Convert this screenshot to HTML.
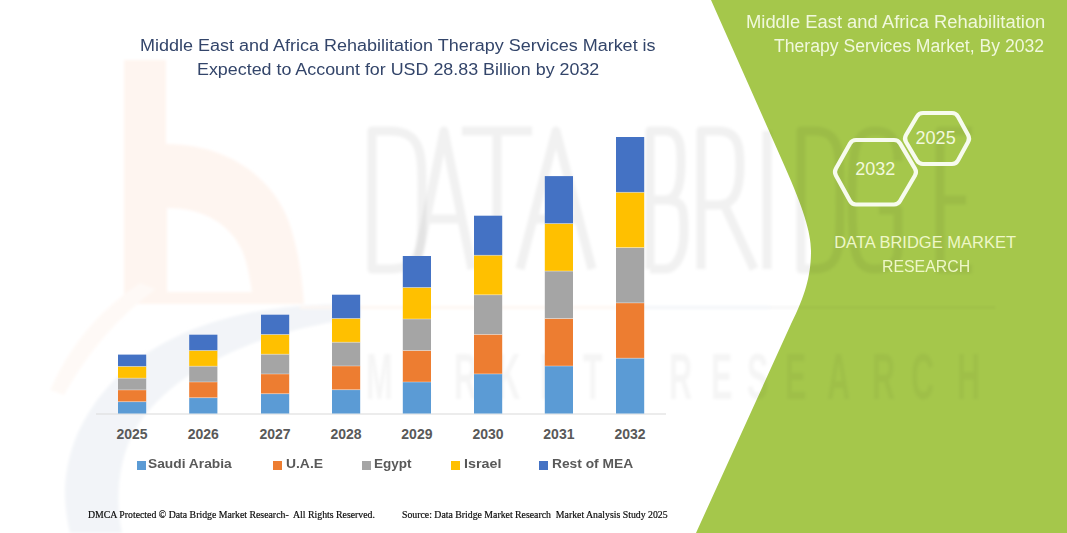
<!DOCTYPE html>
<html><head><meta charset="utf-8">
<style>
html,body{margin:0;padding:0;}
body{width:1067px;height:533px;overflow:hidden;background:#fff;position:relative;font-family:"Liberation Sans",sans-serif;}
.t{position:absolute;white-space:nowrap;line-height:1;transform-origin:0 0;}
.yr{text-align:center;font-weight:bold;font-size:14px;color:#595959;}
.lg{font-weight:bold;font-size:13px;color:#595959;}
svg{position:absolute;left:0;top:0;}
</style></head><body>
<svg width="1067" height="533" viewBox="0 0 1067 533">
  <defs><filter id="bl" x="-10%" y="-10%" width="120%" height="120%"><feGaussianBlur stdDeviation="1.6"/></filter></defs>
  <g id="logo" filter="url(#bl)">
    <path fill-rule="evenodd" d="M124 60 H166 V144 C230 144 275 180 290 225 C298 250 302 275 304 304 H124 Z M167 208 C205 208 230 225 242 250 C248 265 250 280 252 292 H167 Z" fill="#fef5f0"/>
    <path d="M50 390 Q80 322 140 283 L156 289 Q100 330 64 395 Z" fill="#fef9f6"/>
    <path d="M360 305 C250 300 120 330 75 440 C60 480 65 510 70 533 L122 533 C115 500 118 460 135 430 C170 370 260 330 360 318 Z" fill="#f2f4f8"/>
    <rect x="300" y="306" width="340" height="3" fill="#fdf6f2"/>
    <rect x="640" y="306" width="130" height="3" fill="#f3f5f8"/>
  </g>
  <path d="M711 0 L785 167 C803 208 811 232 811 251 C811 274 806 294 791 324 L696 533 L1067 533 L1067 0 Z" fill="#a5c74b"/>
  <rect x="770" y="306" width="225" height="3" fill="#000" fill-opacity="0.035" filter="url(#bl)"/>
  <g fill="none" stroke="#000" stroke-opacity="0.055" stroke-width="9" stroke-linejoin="round" filter="url(#bl)"><path d="M372 131 H389.5 C424 131 422 156 422 200.0 C422 244 424 269 389.5 269 H372 Z"/><path d="M416 269 L444.0 131 L472 269 M425.8 219 H462.2"/><path d="M462 131 H532 M497.0 131 V269"/><path d="M520 269 L556.0 131 L592 269 M532.6 219 H579.4"/><path d="M650 269 V131 H665.3 C682 131 681 151 681 164 C681 195.0 672 200.0 665.3 200.0 H650 M665.3 200.0 C685 200.0 684 210.0 684 233.0 C684 254 676 269 665.3 269 H650"/><path d="M701 269 V131 H718.55 C740 131 740 151 740 166 C740 195.0 732 205.0 718.55 205.0 H701 M724.4 205.0 L754 269"/><path d="M767.0 131 V269"/><path d="M801 131 H814.65 C842 131 840 156 840 200.0 C840 244 842 269 814.65 269 H801 Z"/><path d="M898 161 C898 136 888 131 875.0 131 C856 131 852 146 852 200.0 C852 254 856 269 875.0 269 C892 269 898 261 898 249 V210.0 H879.0"/><path d="M972 131 H940 V269 H972 M940 200.0 H966"/></g>
  <g fill="#000" fill-opacity="0.038" filter="url(#bl)" font-family="Liberation Sans" font-weight="bold" font-size="64"><text transform="translate(366,399) scale(0.5,1)">M</text><text transform="translate(409,399) scale(0.5,1)">A</text><text transform="translate(454,399) scale(0.5,1)">R</text><text transform="translate(497,399) scale(0.5,1)">K</text><text transform="translate(540,399) scale(0.5,1)">E</text><text transform="translate(583,399) scale(0.5,1)">T</text><text transform="translate(669,399) scale(0.5,1)">R</text><text transform="translate(711,399) scale(0.5,1)">E</text><text transform="translate(747,399) scale(0.5,1)">S</text><text transform="translate(785,399) scale(0.5,1)">E</text><text transform="translate(827,399) scale(0.5,1)">A</text><text transform="translate(872,399) scale(0.5,1)">R</text><text transform="translate(911,399) scale(0.5,1)">C</text><text transform="translate(957,399) scale(0.5,1)">H</text></g>
  <g fill="none" stroke="#f7fbee" stroke-width="4.2">
    <path d="M835.94 175.50 Q834.00 172.00 835.96 168.51 L850.04 143.49 Q852.00 140.00 856.00 140.00 L894.00 140.00 Q898.00 140.00 900.04 143.44 L914.96 168.56 Q917.00 172.00 914.98 175.45 L900.02 201.05 Q898.00 204.50 894.00 204.50 L856.00 204.50 Q852.00 204.50 850.06 201.00 Z"/>
    <path d="M906.03 141.95 Q904.00 138.50 906.03 135.05 L916.97 116.45 Q919.00 113.00 923.00 113.00 L952.00 113.00 Q956.00 113.00 957.93 116.51 L968.07 134.99 Q970.00 138.50 968.07 142.01 L957.93 160.49 Q956.00 164.00 952.00 164.00 L923.00 164.00 Q919.00 164.00 916.97 160.55 Z"/>
  </g>
  <rect x="96" y="413.5" width="570" height="1" fill="#d9d9d9"/>
  <rect x="118.00" y="401.72" width="28.2" height="11.78" fill="#5b9bd5"/>
<rect x="118.00" y="389.94" width="28.2" height="11.78" fill="#ed7d31"/>
<rect x="118.00" y="378.16" width="28.2" height="11.78" fill="#a5a5a5"/>
<rect x="118.00" y="366.38" width="28.2" height="11.78" fill="#ffc000"/>
<rect x="118.00" y="354.60" width="28.2" height="11.78" fill="#4472c4"/>
<rect x="118.00" y="401.32" width="28.2" height="0.8" fill="#ffffff" fill-opacity="0.45"/>
<rect x="118.00" y="389.54" width="28.2" height="0.8" fill="#ffffff" fill-opacity="0.45"/>
<rect x="118.00" y="377.76" width="28.2" height="0.8" fill="#ffffff" fill-opacity="0.45"/>
<rect x="118.00" y="365.98" width="28.2" height="0.8" fill="#ffffff" fill-opacity="0.45"/>
<rect x="189.20" y="397.74" width="28.2" height="15.76" fill="#5b9bd5"/>
<rect x="189.20" y="381.98" width="28.2" height="15.76" fill="#ed7d31"/>
<rect x="189.20" y="366.22" width="28.2" height="15.76" fill="#a5a5a5"/>
<rect x="189.20" y="350.46" width="28.2" height="15.76" fill="#ffc000"/>
<rect x="189.20" y="334.70" width="28.2" height="15.76" fill="#4472c4"/>
<rect x="189.20" y="397.34" width="28.2" height="0.8" fill="#ffffff" fill-opacity="0.45"/>
<rect x="189.20" y="381.58" width="28.2" height="0.8" fill="#ffffff" fill-opacity="0.45"/>
<rect x="189.20" y="365.82" width="28.2" height="0.8" fill="#ffffff" fill-opacity="0.45"/>
<rect x="189.20" y="350.06" width="28.2" height="0.8" fill="#ffffff" fill-opacity="0.45"/>
<rect x="261.00" y="393.74" width="28.2" height="19.76" fill="#5b9bd5"/>
<rect x="261.00" y="373.98" width="28.2" height="19.76" fill="#ed7d31"/>
<rect x="261.00" y="354.22" width="28.2" height="19.76" fill="#a5a5a5"/>
<rect x="261.00" y="334.46" width="28.2" height="19.76" fill="#ffc000"/>
<rect x="261.00" y="314.70" width="28.2" height="19.76" fill="#4472c4"/>
<rect x="261.00" y="393.34" width="28.2" height="0.8" fill="#ffffff" fill-opacity="0.45"/>
<rect x="261.00" y="373.58" width="28.2" height="0.8" fill="#ffffff" fill-opacity="0.45"/>
<rect x="261.00" y="353.82" width="28.2" height="0.8" fill="#ffffff" fill-opacity="0.45"/>
<rect x="261.00" y="334.06" width="28.2" height="0.8" fill="#ffffff" fill-opacity="0.45"/>
<rect x="332.00" y="389.74" width="28.2" height="23.76" fill="#5b9bd5"/>
<rect x="332.00" y="365.98" width="28.2" height="23.76" fill="#ed7d31"/>
<rect x="332.00" y="342.22" width="28.2" height="23.76" fill="#a5a5a5"/>
<rect x="332.00" y="318.46" width="28.2" height="23.76" fill="#ffc000"/>
<rect x="332.00" y="294.70" width="28.2" height="23.76" fill="#4472c4"/>
<rect x="332.00" y="389.34" width="28.2" height="0.8" fill="#ffffff" fill-opacity="0.45"/>
<rect x="332.00" y="365.58" width="28.2" height="0.8" fill="#ffffff" fill-opacity="0.45"/>
<rect x="332.00" y="341.82" width="28.2" height="0.8" fill="#ffffff" fill-opacity="0.45"/>
<rect x="332.00" y="318.06" width="28.2" height="0.8" fill="#ffffff" fill-opacity="0.45"/>
<rect x="402.80" y="382.00" width="28.2" height="31.50" fill="#5b9bd5"/>
<rect x="402.80" y="350.50" width="28.2" height="31.50" fill="#ed7d31"/>
<rect x="402.80" y="319.00" width="28.2" height="31.50" fill="#a5a5a5"/>
<rect x="402.80" y="287.50" width="28.2" height="31.50" fill="#ffc000"/>
<rect x="402.80" y="256.00" width="28.2" height="31.50" fill="#4472c4"/>
<rect x="402.80" y="381.60" width="28.2" height="0.8" fill="#ffffff" fill-opacity="0.45"/>
<rect x="402.80" y="350.10" width="28.2" height="0.8" fill="#ffffff" fill-opacity="0.45"/>
<rect x="402.80" y="318.60" width="28.2" height="0.8" fill="#ffffff" fill-opacity="0.45"/>
<rect x="402.80" y="287.10" width="28.2" height="0.8" fill="#ffffff" fill-opacity="0.45"/>
<rect x="474.00" y="373.94" width="28.2" height="39.56" fill="#5b9bd5"/>
<rect x="474.00" y="334.38" width="28.2" height="39.56" fill="#ed7d31"/>
<rect x="474.00" y="294.82" width="28.2" height="39.56" fill="#a5a5a5"/>
<rect x="474.00" y="255.26" width="28.2" height="39.56" fill="#ffc000"/>
<rect x="474.00" y="215.70" width="28.2" height="39.56" fill="#4472c4"/>
<rect x="474.00" y="373.54" width="28.2" height="0.8" fill="#ffffff" fill-opacity="0.45"/>
<rect x="474.00" y="333.98" width="28.2" height="0.8" fill="#ffffff" fill-opacity="0.45"/>
<rect x="474.00" y="294.42" width="28.2" height="0.8" fill="#ffffff" fill-opacity="0.45"/>
<rect x="474.00" y="254.86" width="28.2" height="0.8" fill="#ffffff" fill-opacity="0.45"/>
<rect x="544.80" y="366.02" width="28.2" height="47.48" fill="#5b9bd5"/>
<rect x="544.80" y="318.54" width="28.2" height="47.48" fill="#ed7d31"/>
<rect x="544.80" y="271.06" width="28.2" height="47.48" fill="#a5a5a5"/>
<rect x="544.80" y="223.58" width="28.2" height="47.48" fill="#ffc000"/>
<rect x="544.80" y="176.10" width="28.2" height="47.48" fill="#4472c4"/>
<rect x="544.80" y="365.62" width="28.2" height="0.8" fill="#ffffff" fill-opacity="0.45"/>
<rect x="544.80" y="318.14" width="28.2" height="0.8" fill="#ffffff" fill-opacity="0.45"/>
<rect x="544.80" y="270.66" width="28.2" height="0.8" fill="#ffffff" fill-opacity="0.45"/>
<rect x="544.80" y="223.18" width="28.2" height="0.8" fill="#ffffff" fill-opacity="0.45"/>
<rect x="616.00" y="358.20" width="28.2" height="55.30" fill="#5b9bd5"/>
<rect x="616.00" y="302.90" width="28.2" height="55.30" fill="#ed7d31"/>
<rect x="616.00" y="247.60" width="28.2" height="55.30" fill="#a5a5a5"/>
<rect x="616.00" y="192.30" width="28.2" height="55.30" fill="#ffc000"/>
<rect x="616.00" y="137.00" width="28.2" height="55.30" fill="#4472c4"/>
<rect x="616.00" y="357.80" width="28.2" height="0.8" fill="#ffffff" fill-opacity="0.45"/>
<rect x="616.00" y="302.50" width="28.2" height="0.8" fill="#ffffff" fill-opacity="0.45"/>
<rect x="616.00" y="247.20" width="28.2" height="0.8" fill="#ffffff" fill-opacity="0.45"/>
<rect x="616.00" y="191.90" width="28.2" height="0.8" fill="#ffffff" fill-opacity="0.45"/>
</svg>
<div class="t" id="title1" style="left:140.2px;top:37px;font-size:17.3px;color:#33456a;transform:scaleX(1.041)">Middle East and Africa Rehabilitation Therapy Services Market is</div>
<div class="t" id="title2" style="left:196.8px;top:61.3px;font-size:17.3px;color:#33456a;transform:scaleX(1.034)">Expected to Account for USD 28.83 Billion by 2032</div>
<div class="t" id="gt1" style="left:746.4px;top:13px;font-size:18px;color:#f0f8dc;transform:scaleX(1.021)">Middle East and Africa Rehabilitation</div>
<div class="t" id="gt2" style="left:774.4px;top:37px;font-size:18px;color:#f0f8dc;transform:scaleX(0.978)">Therapy Services Market, By 2032</div>
<div class="t" id="h1" style="left:855.2px;top:160px;font-size:18px;color:#f2f9dc;">2032</div>
<div class="t" id="h2" style="left:915.6px;top:128.5px;font-size:18px;color:#f2f9dc;">2025</div>
<div class="t" id="dbm1" style="left:834.2px;top:233.5px;font-size:16.5px;color:#eef7c8;">DATA BRIDGE MARKET</div>
<div class="t" id="dbm2" style="left:882.3px;top:257.5px;font-size:16.5px;color:#eef7c8;transform:scaleX(0.961)">RESEARCH</div>
<div class="t yr" style="left:112.10px;width:40px;top:427px;">2025</div>
<div class="t yr" style="left:183.30px;width:40px;top:427px;">2026</div>
<div class="t yr" style="left:255.10px;width:40px;top:427px;">2027</div>
<div class="t yr" style="left:326.10px;width:40px;top:427px;">2028</div>
<div class="t yr" style="left:396.90px;width:40px;top:427px;">2029</div>
<div class="t yr" style="left:468.10px;width:40px;top:427px;">2030</div>
<div class="t yr" style="left:538.90px;width:40px;top:427px;">2031</div>
<div class="t yr" style="left:610.10px;width:40px;top:427px;">2032</div>
<div style="position:absolute;left:137px;top:461px;width:8.5px;height:8.5px;background:#5b9bd5"></div>
<div class="t lg" style="left:148.4px;top:457px;transform:scaleX(1.06)">Saudi Arabia</div>
<div style="position:absolute;left:273.2px;top:461px;width:8.5px;height:8.5px;background:#ed7d31"></div>
<div class="t lg" style="left:286px;top:457px;transform:scaleX(1.067)">U.A.E</div>
<div style="position:absolute;left:362.4px;top:461px;width:8.5px;height:8.5px;background:#a5a5a5"></div>
<div class="t lg" style="left:374.2px;top:457px;transform:scaleX(1.04)">Egypt</div>
<div style="position:absolute;left:451.2px;top:461px;width:8.5px;height:8.5px;background:#ffc000"></div>
<div class="t lg" style="left:463.8px;top:457px;transform:scaleX(1.1)">Israel</div>
<div style="position:absolute;left:539px;top:461px;width:8.5px;height:8.5px;background:#4472c4"></div>
<div class="t lg" style="left:552px;top:457px;transform:scaleX(1.06)">Rest of MEA</div>
<div class="t" id="f1" style="left:88.3px;top:510px;font-size:9.7px;font-family:'Liberation Serif',serif;color:#000;-webkit-text-stroke:0.2px #222;transform:scaleX(1.0115)">DMCA Protected © Data Bridge Market Research-&nbsp; All Rights Reserved.</div>
<div class="t" id="f2" style="left:402.2px;top:510px;font-size:9.7px;font-family:'Liberation Serif',serif;color:#000;-webkit-text-stroke:0.2px #222;transform:scaleX(1.0105)">Source: Data Bridge Market Research&nbsp; Market Analysis Study 2025</div>
</body></html>
